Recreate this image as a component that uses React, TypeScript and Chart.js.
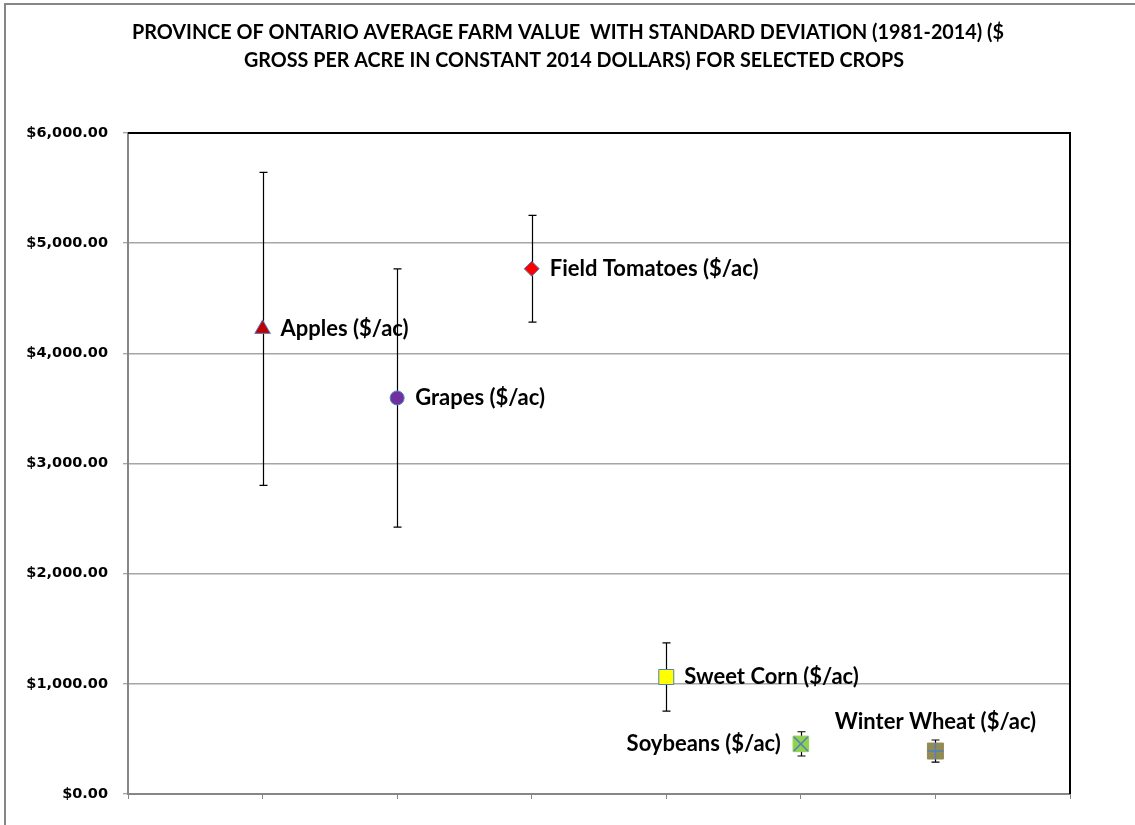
import React, { useEffect, useRef } from 'react';
import { Chart, registerables } from 'chart.js';

Chart.register(...registerables);

// ---- data ----
const titleLines = [
  'PROVINCE OF ONTARIO AVERAGE FARM VALUE  WITH STANDARD DEVIATION (1981-2014) ($',
  'GROSS PER ACRE IN CONSTANT 2014 DOLLARS) FOR SELECTED CROPS',
];
const crops = [
  'Apples ($/ac)',
  'Grapes ($/ac)',
  'Field Tomatoes ($/ac)',
  'Sweet Corn ($/ac)',
  'Soybeans ($/ac)',
  'Winter Wheat ($/ac)',
];
const positions = [1, 2, 3, 4, 5, 6];
const averages = [4222, 3595, 4768, 1062, 455, 390];
const stdDevs = [1420, 1172, 485, 310, 110, 100];
const yTicks = [0, 1000, 2000, 3000, 4000, 5000, 6000];

// ---- styling ----
const markerStyles = ['triangle', 'circle', 'rectRot', 'rect', 'rect', 'rect'];
const markerRadius = [9, 7, 7.5, 10.6, 11, 11.3];
const markerFill = ['#C00000', '#7030A0', '#FF0000', '#FFFF00', '#92D050', '#948A54'];
const markerBorder = ['#4F81BD', '#4F81BD', '#4F81BD', '#4F81BD', '#92D050', '#948A54'];
const overlayStyles: (string | null)[] = [null, null, null, null, 'crossRot', 'cross'];
const labelPlacement = ['right', 'right', 'right', 'right', 'left', 'above'];

const LABEL_FONT = 'bold 22px Lato, "Open Sans", sans-serif';

function fmtMoney(v: number) {
  return '$' + v.toLocaleString('en-US', { minimumFractionDigits: 2, maximumFractionDigits: 2 });
}

const decorPlugin = {
  id: 'decor',
  beforeDraw(chart: any) {
    const ctx = chart.ctx;
    ctx.save();
    ctx.fillStyle = '#ffffff';
    ctx.fillRect(0, 0, chart.width, chart.height);
    // outer frame (left & top visible)
    ctx.strokeStyle = '#868686';
    ctx.lineWidth = 2;
    ctx.beginPath();
    ctx.moveTo(5, chart.height);
    ctx.lineTo(5, 4);
    ctx.lineTo(chart.width, 4);
    ctx.stroke();
    // title
    ctx.fillStyle = '#000000';
    ctx.font = 'bold 20px Lato, "Open Sans", sans-serif';
    ctx.textAlign = 'center';
    ctx.textBaseline = 'middle';
    ctx.fillText(titleLines[0], 568, 33, 872);
    ctx.fillText(titleLines[1], 574, 61, 660);
    ctx.restore();
  },
  beforeDatasetsDraw(chart: any) {
    const ctx = chart.ctx;
    const xs = chart.scales.x;
    const ys = chart.scales.y;
    const area = chart.chartArea;
    ctx.save();
    // top & right plot border
    ctx.strokeStyle = '#000000';
    ctx.lineWidth = 2;
    ctx.beginPath();
    ctx.moveTo(area.left, area.top);
    ctx.lineTo(area.right, area.top);
    ctx.lineTo(area.right, area.bottom);
    ctx.stroke();
    // error bars
    ctx.strokeStyle = '#000000';
    ctx.lineWidth = 1.2;
    for (let i = 0; i < positions.length; i++) {
      const px = Math.round(xs.getPixelForValue(positions[i])) + 0.5;
      const top = ys.getPixelForValue(averages[i] + stdDevs[i]);
      const bot = ys.getPixelForValue(averages[i] - stdDevs[i]);
      ctx.beginPath();
      ctx.moveTo(px, top);
      ctx.lineTo(px, bot);
      ctx.moveTo(px - 4, top);
      ctx.lineTo(px + 4, top);
      ctx.moveTo(px - 4, bot);
      ctx.lineTo(px + 4, bot);
      ctx.stroke();
    }
    ctx.restore();
  },
  afterDatasetsDraw(chart: any) {
    const ctx = chart.ctx;
    const xs = chart.scales.x;
    const ys = chart.scales.y;
    ctx.save();
    ctx.fillStyle = '#000000';
    ctx.font = LABEL_FONT;
    ctx.textBaseline = 'middle';
    for (let i = 0; i < crops.length; i++) {
      const px = xs.getPixelForValue(positions[i]);
      const py = ys.getPixelForValue(averages[i]);
      const place = labelPlacement[i];
      if (place === 'right') {
        ctx.textAlign = 'left';
        ctx.fillText(crops[i], px + 18, py);
      } else if (place === 'left') {
        ctx.textAlign = 'right';
        ctx.fillText(crops[i], px - 20, py);
      } else {
        ctx.textAlign = 'center';
        ctx.fillText(crops[i], px, py - 29);
      }
    }
    ctx.restore();
  },
};

export default function App() {
  const ref = useRef<HTMLCanvasElement>(null);

  useEffect(() => {
    document.body.style.margin = '0';
    const canvas = ref.current;
    if (!canvas) return;

    const datasets: any[] = crops.map((c, i) => ({
      label: c,
      data: [{ x: positions[i], y: averages[i] }],
      pointStyle: markerStyles[i],
      pointRadius: markerRadius[i],
      pointBackgroundColor: markerFill[i],
      pointBorderColor: markerBorder[i],
      pointBorderWidth: 1,
      showLine: false,
      order: 1,
    }));
    overlayStyles.forEach((s, i) => {
      if (!s) return;
      datasets.push({
        label: crops[i] + ' overlay',
        data: [{ x: positions[i], y: averages[i] }],
        pointStyle: s,
        pointRadius: s === 'crossRot' ? 10 : 8,
        pointBackgroundColor: 'rgba(0,0,0,0)',
        pointBorderColor: '#4F81BD',
        pointBorderWidth: 1.5,
        showLine: false,
        order: 0,
      });
    });

    const chart = new Chart(canvas, {
      type: 'scatter',
      data: { datasets },
      options: {
        responsive: false,
        animation: false,
        events: [],
        layout: { padding: { left: 0, top: 133, right: 65, bottom: 0 } },
        plugins: {
          legend: { display: false },
          title: { display: false },
          tooltip: { enabled: false },
        },
        scales: {
          x: {
            type: 'linear',
            min: 0,
            max: 7,
            afterBuildTicks: (s: any) => {
              s.ticks = [0, 1, 2, 3, 4, 5, 6, 7].map((v) => ({ value: v }));
            },
            ticks: { callback: () => '' },
            grid: {
              drawOnChartArea: false,
              drawTicks: true,
              tickLength: 5,
              tickColor: '#868686',
              tickWidth: 1,
            },
            border: { color: '#868686', width: 2 },
            afterFit: (s: any) => {
              s.height = 31;
            },
          },
          y: {
            type: 'linear',
            min: 0,
            max: 6000,
            afterBuildTicks: (s: any) => {
              s.ticks = yTicks.map((v) => ({ value: v }));
            },
            ticks: {
              callback: (v: any) => fmtMoney(Number(v)),
              color: '#000000',
              padding: 15,
              font: { family: '"DejaVu Sans", Verdana, sans-serif', weight: 'bold', size: 14.5 },
            },
            grid: {
              color: '#A6A6A6',
              lineWidth: 1.5,
              drawTicks: true,
              tickLength: 5,
              tickColor: '#868686',
              tickWidth: 1,
            },
            border: { color: '#868686', width: 2 },
            afterFit: (s: any) => {
              s.width = 128;
            },
          },
        },
      },
      plugins: [decorPlugin],
    } as any);

    return () => chart.destroy();
  }, []);

  return (
    <div style={{ position: 'absolute', left: 0, top: 0, width: 1135, height: 825 }}>
      <canvas ref={ref} width={1135} height={825} />
    </div>
  );
}
